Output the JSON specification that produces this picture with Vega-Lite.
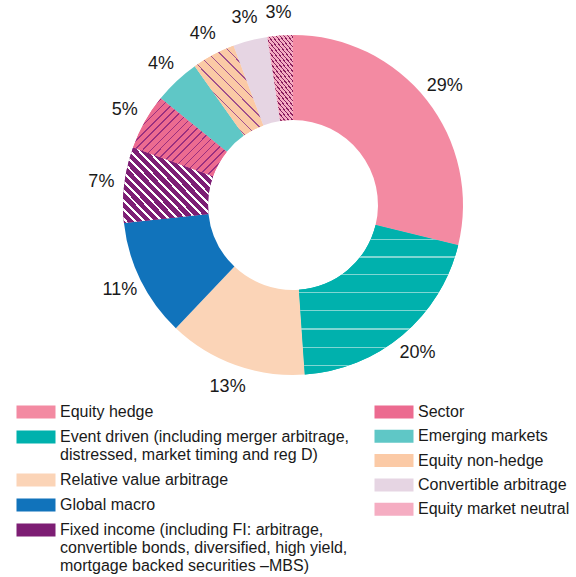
{
  "$schema": "https://vega.github.io/schema/vega-lite/v6.json",
  "width": 566,
  "height": 410,
  "padding": {"left": 10, "top": 0, "right": 0, "bottom": 0},
  "autosize": {"type": "pad"},
  "background": "white",
  "config": {
    "view": {"stroke": null},
    "font": "Liberation Sans",
    "legend": {
      "title": null,
      "orient": "none",
      "symbolType": "M-3,-1H3V1H-3Z",
      "symbolSize": 169,
      "symbolStrokeWidth": 0,
      "symbolOffset": 13,
      "labelOffset": 16,
      "labelFont": "Liberation Sans",
      "labelFontSize": 16,
      "labelColor": "#1a1a1a",
      "labelLimit": 600
    }
  },
  "data": {
    "values": [
      {"category": "Equity hedge", "value": 28.8, "pct": "29%", "order": 1, "group": "A"},
      {"category": "Event driven (including merger arbitrage,|distressed, market timing and reg D)", "value": 20.1, "pct": "20%", "order": 2, "group": "A"},
      {"category": "Relative value arbitrage", "value": 13.2, "pct": "13%", "order": 3, "group": "A"},
      {"category": "Global macro", "value": 11.2, "pct": "11%", "order": 4, "group": "A"},
      {"category": "Fixed income (including FI: arbitrage,|convertible bonds, diversified, high yield,|mortgage backed securities \u2013MBS)", "value": 7.2, "pct": "7%", "order": 5, "group": "A"},
      {"category": "Sector", "value": 5.3, "pct": "5%", "order": 6, "group": "B"},
      {"category": "Emerging markets", "value": 4.4, "pct": "4%", "order": 7, "group": "B"},
      {"category": "Equity non-hedge", "value": 4.1, "pct": "4%", "order": 8, "group": "B"},
      {"category": "Convertible arbitrage", "value": 3.3, "pct": "3%", "order": 9, "group": "B"},
      {"category": "Equity market neutral", "value": 2.4, "pct": "3%", "order": 10, "group": "B"}
    ]
  },
  "transform": [
    {"stack": "value", "groupby": [], "sort": [{"field": "order", "order": "ascending"}], "as": ["t0", "t1"]}
  ],
  "layer": [
    {
      "transform": [{"filter": "datum.group === 'A'"}],
      "mark": {"type": "arc", "radius": 170, "innerRadius": 85},
      "encoding": {
        "theta": {"field": "t0", "type": "quantitative", "scale": {"domain": [0, 100]}},
        "theta2": {"field": "t1"},
        "color": {
          "field": "category",
          "type": "nominal",
          "scale": {
            "domain": [
              "Equity hedge",
              "Event driven (including merger arbitrage,|distressed, market timing and reg D)",
              "Relative value arbitrage",
              "Global macro",
              "Fixed income (including FI: arbitrage,|convertible bonds, diversified, high yield,|mortgage backed securities \u2013MBS)"
            ],
            "range": ["#f38aa2", "#00b1ad", "#fbd4b7", "#1173bb", "#7d1e74"]
          },
          "legend": {
            "legendX": 5,
            "legendY": 404,
            "rowPadding": 9,
            "labelExpr": "split(datum.label, '|')"
          }
        }
      }
    },
    {
      "transform": [{"filter": "datum.group === 'B'"}],
      "mark": {"type": "arc", "radius": 170, "innerRadius": 85},
      "encoding": {
        "theta": {"field": "t0", "type": "quantitative", "scale": {"domain": [0, 100]}},
        "theta2": {"field": "t1"},
        "color": {
          "field": "category",
          "type": "nominal",
          "scale": {
            "domain": ["Sector", "Emerging markets", "Equity non-hedge", "Convertible arbitrage", "Equity market neutral"],
            "range": ["#ec6b90", "#5fc7c6", "#fbcaa6", "#e6d5e3", "#f5adc2"]
          },
          "legend": {
            "legendX": 363,
            "legendY": 404,
            "rowPadding": 8.3
          }
        }
      }
    },
    {
      "transform": [{"filter": "datum.order === 2"}],
      "mark": {
        "type": "arc", "radius": 170, "innerRadius": 85,
        "fill": {
          "gradient": "linear", "x1": 0, "y1": 0, "x2": 0, "y2": 1,
          "stops": [
            {"offset": 0, "color": "#00b1ad"},
            {"offset": 0.090, "color": "#00b1ad"}, {"offset": 0.090, "color": "#7fd6d3"}, {"offset": 0.099, "color": "#7fd6d3"}, {"offset": 0.099, "color": "#00b1ad"},
            {"offset": 0.208, "color": "#00b1ad"}, {"offset": 0.208, "color": "#7fd6d3"}, {"offset": 0.217, "color": "#7fd6d3"}, {"offset": 0.217, "color": "#00b1ad"},
            {"offset": 0.326, "color": "#00b1ad"}, {"offset": 0.326, "color": "#7fd6d3"}, {"offset": 0.335, "color": "#7fd6d3"}, {"offset": 0.335, "color": "#00b1ad"},
            {"offset": 0.447, "color": "#00b1ad"}, {"offset": 0.447, "color": "#7fd6d3"}, {"offset": 0.456, "color": "#7fd6d3"}, {"offset": 0.456, "color": "#00b1ad"},
            {"offset": 0.568, "color": "#00b1ad"}, {"offset": 0.568, "color": "#7fd6d3"}, {"offset": 0.577, "color": "#7fd6d3"}, {"offset": 0.577, "color": "#00b1ad"},
            {"offset": 0.691, "color": "#00b1ad"}, {"offset": 0.691, "color": "#7fd6d3"}, {"offset": 0.700, "color": "#7fd6d3"}, {"offset": 0.700, "color": "#00b1ad"},
            {"offset": 0.814, "color": "#00b1ad"}, {"offset": 0.814, "color": "#7fd6d3"}, {"offset": 0.823, "color": "#7fd6d3"}, {"offset": 0.823, "color": "#00b1ad"},
            {"offset": 0.936, "color": "#00b1ad"}, {"offset": 0.936, "color": "#7fd6d3"}, {"offset": 0.945, "color": "#7fd6d3"}, {"offset": 0.945, "color": "#00b1ad"},
            {"offset": 1, "color": "#00b1ad"}
          ]
        }
      },
      "encoding": {
        "theta": {"field": "t0", "type": "quantitative", "scale": {"domain": [0, 100]}},
        "theta2": {"field": "t1"}
      }
    },
    {
      "transform": [{"filter": "datum.order === 5"}],
      "mark": {
        "type": "arc", "radius": 170, "innerRadius": 85,
        "fill": {
          "gradient": "linear", "x1": 0, "y1": 1, "x2": 1.09, "y2": 0.11,
          "stops": [
            {"offset": 0, "color": "#7d1e74"},
            {"offset": 0.020, "color": "#7d1e74"}, {"offset": 0.020, "color": "#ffffff"}, {"offset": 0.037, "color": "#ffffff"}, {"offset": 0.037, "color": "#7d1e74"},
            {"offset": 0.076, "color": "#7d1e74"}, {"offset": 0.076, "color": "#ffffff"}, {"offset": 0.093, "color": "#ffffff"}, {"offset": 0.093, "color": "#7d1e74"},
            {"offset": 0.131, "color": "#7d1e74"}, {"offset": 0.131, "color": "#ffffff"}, {"offset": 0.148, "color": "#ffffff"}, {"offset": 0.148, "color": "#7d1e74"},
            {"offset": 0.187, "color": "#7d1e74"}, {"offset": 0.187, "color": "#ffffff"}, {"offset": 0.204, "color": "#ffffff"}, {"offset": 0.204, "color": "#7d1e74"},
            {"offset": 0.242, "color": "#7d1e74"}, {"offset": 0.242, "color": "#ffffff"}, {"offset": 0.259, "color": "#ffffff"}, {"offset": 0.259, "color": "#7d1e74"},
            {"offset": 0.298, "color": "#7d1e74"}, {"offset": 0.298, "color": "#ffffff"}, {"offset": 0.315, "color": "#ffffff"}, {"offset": 0.315, "color": "#7d1e74"},
            {"offset": 0.353, "color": "#7d1e74"}, {"offset": 0.353, "color": "#ffffff"}, {"offset": 0.370, "color": "#ffffff"}, {"offset": 0.370, "color": "#7d1e74"},
            {"offset": 0.409, "color": "#7d1e74"}, {"offset": 0.409, "color": "#ffffff"}, {"offset": 0.426, "color": "#ffffff"}, {"offset": 0.426, "color": "#7d1e74"},
            {"offset": 0.464, "color": "#7d1e74"}, {"offset": 0.464, "color": "#ffffff"}, {"offset": 0.481, "color": "#ffffff"}, {"offset": 0.481, "color": "#7d1e74"},
            {"offset": 0.520, "color": "#7d1e74"}, {"offset": 0.520, "color": "#ffffff"}, {"offset": 0.537, "color": "#ffffff"}, {"offset": 0.537, "color": "#7d1e74"},
            {"offset": 0.576, "color": "#7d1e74"}, {"offset": 0.576, "color": "#ffffff"}, {"offset": 0.593, "color": "#ffffff"}, {"offset": 0.593, "color": "#7d1e74"},
            {"offset": 0.631, "color": "#7d1e74"}, {"offset": 0.631, "color": "#ffffff"}, {"offset": 0.648, "color": "#ffffff"}, {"offset": 0.648, "color": "#7d1e74"},
            {"offset": 0.687, "color": "#7d1e74"}, {"offset": 0.687, "color": "#ffffff"}, {"offset": 0.704, "color": "#ffffff"}, {"offset": 0.704, "color": "#7d1e74"},
            {"offset": 0.742, "color": "#7d1e74"}, {"offset": 0.742, "color": "#ffffff"}, {"offset": 0.759, "color": "#ffffff"}, {"offset": 0.759, "color": "#7d1e74"},
            {"offset": 0.798, "color": "#7d1e74"}, {"offset": 0.798, "color": "#ffffff"}, {"offset": 0.815, "color": "#ffffff"}, {"offset": 0.815, "color": "#7d1e74"},
            {"offset": 0.853, "color": "#7d1e74"}, {"offset": 0.853, "color": "#ffffff"}, {"offset": 0.870, "color": "#ffffff"}, {"offset": 0.870, "color": "#7d1e74"},
            {"offset": 0.909, "color": "#7d1e74"}, {"offset": 0.909, "color": "#ffffff"}, {"offset": 0.926, "color": "#ffffff"}, {"offset": 0.926, "color": "#7d1e74"},
            {"offset": 0.964, "color": "#7d1e74"}, {"offset": 0.964, "color": "#ffffff"}, {"offset": 0.981, "color": "#ffffff"}, {"offset": 0.981, "color": "#7d1e74"},
            {"offset": 1, "color": "#7d1e74"}
          ]
        }
      },
      "encoding": {
        "theta": {"field": "t0", "type": "quantitative", "scale": {"domain": [0, 100]}},
        "theta2": {"field": "t1"}
      }
    },
    {
      "transform": [{"filter": "datum.order === 6"}],
      "mark": {
        "type": "arc", "radius": 170, "innerRadius": 85,
        "fill": {
          "gradient": "linear", "x1": 0, "y1": 0, "x2": 1.084, "y2": 0.898,
          "stops": [
            {"offset": 0, "color": "#ec6b90"},
            {"offset": 0.020, "color": "#ec6b90"}, {"offset": 0.020, "color": "#9a2f7f"}, {"offset": 0.029, "color": "#9a2f7f"}, {"offset": 0.029, "color": "#ec6b90"},
            {"offset": 0.068, "color": "#ec6b90"}, {"offset": 0.068, "color": "#9a2f7f"}, {"offset": 0.077, "color": "#9a2f7f"}, {"offset": 0.077, "color": "#ec6b90"},
            {"offset": 0.115, "color": "#ec6b90"}, {"offset": 0.115, "color": "#9a2f7f"}, {"offset": 0.124, "color": "#9a2f7f"}, {"offset": 0.124, "color": "#ec6b90"},
            {"offset": 0.163, "color": "#ec6b90"}, {"offset": 0.163, "color": "#9a2f7f"}, {"offset": 0.172, "color": "#9a2f7f"}, {"offset": 0.172, "color": "#ec6b90"},
            {"offset": 0.210, "color": "#ec6b90"}, {"offset": 0.210, "color": "#9a2f7f"}, {"offset": 0.219, "color": "#9a2f7f"}, {"offset": 0.219, "color": "#ec6b90"},
            {"offset": 0.258, "color": "#ec6b90"}, {"offset": 0.258, "color": "#9a2f7f"}, {"offset": 0.267, "color": "#9a2f7f"}, {"offset": 0.267, "color": "#ec6b90"},
            {"offset": 0.306, "color": "#ec6b90"}, {"offset": 0.306, "color": "#9a2f7f"}, {"offset": 0.315, "color": "#9a2f7f"}, {"offset": 0.315, "color": "#ec6b90"},
            {"offset": 0.353, "color": "#ec6b90"}, {"offset": 0.353, "color": "#9a2f7f"}, {"offset": 0.362, "color": "#9a2f7f"}, {"offset": 0.362, "color": "#ec6b90"},
            {"offset": 0.401, "color": "#ec6b90"}, {"offset": 0.401, "color": "#9a2f7f"}, {"offset": 0.410, "color": "#9a2f7f"}, {"offset": 0.410, "color": "#ec6b90"},
            {"offset": 0.449, "color": "#ec6b90"}, {"offset": 0.449, "color": "#9a2f7f"}, {"offset": 0.458, "color": "#9a2f7f"}, {"offset": 0.458, "color": "#ec6b90"},
            {"offset": 0.496, "color": "#ec6b90"}, {"offset": 0.496, "color": "#9a2f7f"}, {"offset": 0.505, "color": "#9a2f7f"}, {"offset": 0.505, "color": "#ec6b90"},
            {"offset": 0.544, "color": "#ec6b90"}, {"offset": 0.544, "color": "#9a2f7f"}, {"offset": 0.553, "color": "#9a2f7f"}, {"offset": 0.553, "color": "#ec6b90"},
            {"offset": 0.591, "color": "#ec6b90"}, {"offset": 0.591, "color": "#9a2f7f"}, {"offset": 0.600, "color": "#9a2f7f"}, {"offset": 0.600, "color": "#ec6b90"},
            {"offset": 0.639, "color": "#ec6b90"}, {"offset": 0.639, "color": "#9a2f7f"}, {"offset": 0.648, "color": "#9a2f7f"}, {"offset": 0.648, "color": "#ec6b90"},
            {"offset": 0.687, "color": "#ec6b90"}, {"offset": 0.687, "color": "#9a2f7f"}, {"offset": 0.696, "color": "#9a2f7f"}, {"offset": 0.696, "color": "#ec6b90"},
            {"offset": 0.734, "color": "#ec6b90"}, {"offset": 0.734, "color": "#9a2f7f"}, {"offset": 0.743, "color": "#9a2f7f"}, {"offset": 0.743, "color": "#ec6b90"},
            {"offset": 0.782, "color": "#ec6b90"}, {"offset": 0.782, "color": "#9a2f7f"}, {"offset": 0.791, "color": "#9a2f7f"}, {"offset": 0.791, "color": "#ec6b90"},
            {"offset": 0.830, "color": "#ec6b90"}, {"offset": 0.830, "color": "#9a2f7f"}, {"offset": 0.839, "color": "#9a2f7f"}, {"offset": 0.839, "color": "#ec6b90"},
            {"offset": 0.877, "color": "#ec6b90"}, {"offset": 0.877, "color": "#9a2f7f"}, {"offset": 0.886, "color": "#9a2f7f"}, {"offset": 0.886, "color": "#ec6b90"},
            {"offset": 0.925, "color": "#ec6b90"}, {"offset": 0.925, "color": "#9a2f7f"}, {"offset": 0.934, "color": "#9a2f7f"}, {"offset": 0.934, "color": "#ec6b90"},
            {"offset": 0.972, "color": "#ec6b90"}, {"offset": 0.972, "color": "#9a2f7f"}, {"offset": 0.981, "color": "#9a2f7f"}, {"offset": 0.981, "color": "#ec6b90"},
            {"offset": 1, "color": "#ec6b90"}
          ]
        }
      },
      "encoding": {
        "theta": {"field": "t0", "type": "quantitative", "scale": {"domain": [0, 100]}},
        "theta2": {"field": "t1"}
      }
    },
    {
      "transform": [{"filter": "datum.order === 8"}],
      "mark": {
        "type": "arc", "radius": 170, "innerRadius": 85,
        "fill": {
          "gradient": "linear", "x1": 0, "y1": 1, "x2": 0.853, "y2": -0.113,
          "stops": [
            {"offset": 0, "color": "#fbcaa6"},
            {"offset": 0.030, "color": "#fbcaa6"}, {"offset": 0.030, "color": "#a0508e"}, {"offset": 0.039, "color": "#a0508e"}, {"offset": 0.039, "color": "#fbcaa6"},
            {"offset": 0.101, "color": "#fbcaa6"}, {"offset": 0.101, "color": "#a0508e"}, {"offset": 0.110, "color": "#a0508e"}, {"offset": 0.110, "color": "#fbcaa6"},
            {"offset": 0.173, "color": "#fbcaa6"}, {"offset": 0.173, "color": "#a0508e"}, {"offset": 0.182, "color": "#a0508e"}, {"offset": 0.182, "color": "#fbcaa6"},
            {"offset": 0.244, "color": "#fbcaa6"}, {"offset": 0.244, "color": "#a0508e"}, {"offset": 0.253, "color": "#a0508e"}, {"offset": 0.253, "color": "#fbcaa6"},
            {"offset": 0.316, "color": "#fbcaa6"}, {"offset": 0.316, "color": "#a0508e"}, {"offset": 0.325, "color": "#a0508e"}, {"offset": 0.325, "color": "#fbcaa6"},
            {"offset": 0.387, "color": "#fbcaa6"}, {"offset": 0.387, "color": "#a0508e"}, {"offset": 0.396, "color": "#a0508e"}, {"offset": 0.396, "color": "#fbcaa6"},
            {"offset": 0.459, "color": "#fbcaa6"}, {"offset": 0.459, "color": "#a0508e"}, {"offset": 0.468, "color": "#a0508e"}, {"offset": 0.468, "color": "#fbcaa6"},
            {"offset": 0.530, "color": "#fbcaa6"}, {"offset": 0.530, "color": "#a0508e"}, {"offset": 0.539, "color": "#a0508e"}, {"offset": 0.539, "color": "#fbcaa6"},
            {"offset": 0.601, "color": "#fbcaa6"}, {"offset": 0.601, "color": "#a0508e"}, {"offset": 0.610, "color": "#a0508e"}, {"offset": 0.610, "color": "#fbcaa6"},
            {"offset": 0.673, "color": "#fbcaa6"}, {"offset": 0.673, "color": "#a0508e"}, {"offset": 0.682, "color": "#a0508e"}, {"offset": 0.682, "color": "#fbcaa6"},
            {"offset": 0.744, "color": "#fbcaa6"}, {"offset": 0.744, "color": "#a0508e"}, {"offset": 0.753, "color": "#a0508e"}, {"offset": 0.753, "color": "#fbcaa6"},
            {"offset": 0.816, "color": "#fbcaa6"}, {"offset": 0.816, "color": "#a0508e"}, {"offset": 0.825, "color": "#a0508e"}, {"offset": 0.825, "color": "#fbcaa6"},
            {"offset": 0.887, "color": "#fbcaa6"}, {"offset": 0.887, "color": "#a0508e"}, {"offset": 0.896, "color": "#a0508e"}, {"offset": 0.896, "color": "#fbcaa6"},
            {"offset": 0.959, "color": "#fbcaa6"}, {"offset": 0.959, "color": "#a0508e"}, {"offset": 0.968, "color": "#a0508e"}, {"offset": 0.968, "color": "#fbcaa6"},
            {"offset": 1, "color": "#fbcaa6"}
          ]
        }
      },
      "encoding": {
        "theta": {"field": "t0", "type": "quantitative", "scale": {"domain": [0, 100]}},
        "theta2": {"field": "t1"}
      }
    },
    {
      "transform": [{"filter": "datum.order === 10"}],
      "mark": {
        "type": "arc", "radius": 170, "innerRadius": 85,
        "fill": {
          "gradient": "linear", "x1": 0, "y1": 1, "x2": 0.446, "y2": -0.205,
          "stops": [
            {"offset": 0, "color": "#f5adc2"},
            {"offset": 0.015, "color": "#f5adc2"}, {"offset": 0.015, "color": "#8a1f5e"}, {"offset": 0.028, "color": "#8a1f5e"}, {"offset": 0.028, "color": "#f5adc2"},
            {"offset": 0.057, "color": "#f5adc2"}, {"offset": 0.057, "color": "#8a1f5e"}, {"offset": 0.070, "color": "#8a1f5e"}, {"offset": 0.070, "color": "#f5adc2"},
            {"offset": 0.098, "color": "#f5adc2"}, {"offset": 0.098, "color": "#8a1f5e"}, {"offset": 0.111, "color": "#8a1f5e"}, {"offset": 0.111, "color": "#f5adc2"},
            {"offset": 0.140, "color": "#f5adc2"}, {"offset": 0.140, "color": "#8a1f5e"}, {"offset": 0.153, "color": "#8a1f5e"}, {"offset": 0.153, "color": "#f5adc2"},
            {"offset": 0.182, "color": "#f5adc2"}, {"offset": 0.182, "color": "#8a1f5e"}, {"offset": 0.195, "color": "#8a1f5e"}, {"offset": 0.195, "color": "#f5adc2"},
            {"offset": 0.223, "color": "#f5adc2"}, {"offset": 0.223, "color": "#8a1f5e"}, {"offset": 0.236, "color": "#8a1f5e"}, {"offset": 0.236, "color": "#f5adc2"},
            {"offset": 0.265, "color": "#f5adc2"}, {"offset": 0.265, "color": "#8a1f5e"}, {"offset": 0.278, "color": "#8a1f5e"}, {"offset": 0.278, "color": "#f5adc2"},
            {"offset": 0.307, "color": "#f5adc2"}, {"offset": 0.307, "color": "#8a1f5e"}, {"offset": 0.320, "color": "#8a1f5e"}, {"offset": 0.320, "color": "#f5adc2"},
            {"offset": 0.348, "color": "#f5adc2"}, {"offset": 0.348, "color": "#8a1f5e"}, {"offset": 0.361, "color": "#8a1f5e"}, {"offset": 0.361, "color": "#f5adc2"},
            {"offset": 0.390, "color": "#f5adc2"}, {"offset": 0.390, "color": "#8a1f5e"}, {"offset": 0.403, "color": "#8a1f5e"}, {"offset": 0.403, "color": "#f5adc2"},
            {"offset": 0.432, "color": "#f5adc2"}, {"offset": 0.432, "color": "#8a1f5e"}, {"offset": 0.445, "color": "#8a1f5e"}, {"offset": 0.445, "color": "#f5adc2"},
            {"offset": 0.473, "color": "#f5adc2"}, {"offset": 0.473, "color": "#8a1f5e"}, {"offset": 0.486, "color": "#8a1f5e"}, {"offset": 0.486, "color": "#f5adc2"},
            {"offset": 0.515, "color": "#f5adc2"}, {"offset": 0.515, "color": "#8a1f5e"}, {"offset": 0.528, "color": "#8a1f5e"}, {"offset": 0.528, "color": "#f5adc2"},
            {"offset": 0.557, "color": "#f5adc2"}, {"offset": 0.557, "color": "#8a1f5e"}, {"offset": 0.570, "color": "#8a1f5e"}, {"offset": 0.570, "color": "#f5adc2"},
            {"offset": 0.598, "color": "#f5adc2"}, {"offset": 0.598, "color": "#8a1f5e"}, {"offset": 0.611, "color": "#8a1f5e"}, {"offset": 0.611, "color": "#f5adc2"},
            {"offset": 0.640, "color": "#f5adc2"}, {"offset": 0.640, "color": "#8a1f5e"}, {"offset": 0.653, "color": "#8a1f5e"}, {"offset": 0.653, "color": "#f5adc2"},
            {"offset": 0.682, "color": "#f5adc2"}, {"offset": 0.682, "color": "#8a1f5e"}, {"offset": 0.695, "color": "#8a1f5e"}, {"offset": 0.695, "color": "#f5adc2"},
            {"offset": 0.723, "color": "#f5adc2"}, {"offset": 0.723, "color": "#8a1f5e"}, {"offset": 0.736, "color": "#8a1f5e"}, {"offset": 0.736, "color": "#f5adc2"},
            {"offset": 0.765, "color": "#f5adc2"}, {"offset": 0.765, "color": "#8a1f5e"}, {"offset": 0.778, "color": "#8a1f5e"}, {"offset": 0.778, "color": "#f5adc2"},
            {"offset": 0.807, "color": "#f5adc2"}, {"offset": 0.807, "color": "#8a1f5e"}, {"offset": 0.820, "color": "#8a1f5e"}, {"offset": 0.820, "color": "#f5adc2"},
            {"offset": 0.848, "color": "#f5adc2"}, {"offset": 0.848, "color": "#8a1f5e"}, {"offset": 0.861, "color": "#8a1f5e"}, {"offset": 0.861, "color": "#f5adc2"},
            {"offset": 0.890, "color": "#f5adc2"}, {"offset": 0.890, "color": "#8a1f5e"}, {"offset": 0.903, "color": "#8a1f5e"}, {"offset": 0.903, "color": "#f5adc2"},
            {"offset": 0.932, "color": "#f5adc2"}, {"offset": 0.932, "color": "#8a1f5e"}, {"offset": 0.945, "color": "#8a1f5e"}, {"offset": 0.945, "color": "#f5adc2"},
            {"offset": 0.973, "color": "#f5adc2"}, {"offset": 0.973, "color": "#8a1f5e"}, {"offset": 0.986, "color": "#8a1f5e"}, {"offset": 0.986, "color": "#f5adc2"},
            {"offset": 1, "color": "#f5adc2"}
          ]
        }
      },
      "encoding": {
        "theta": {"field": "t0", "type": "quantitative", "scale": {"domain": [0, 100]}},
        "theta2": {"field": "t1"}
      }
    },
    {
      "mark": {"type": "text", "radius": 193, "fontSize": 18, "font": "Liberation Sans", "color": "#1a1a1a"},
      "encoding": {
        "theta": {"field": "value", "type": "quantitative", "stack": true, "scale": {"domain": [0, 100]}},
        "order": {"field": "order", "type": "quantitative"},
        "text": {"field": "pct"}
      }
    }
  ],
  "resolve": {"scale": {"color": "independent"}}
}
